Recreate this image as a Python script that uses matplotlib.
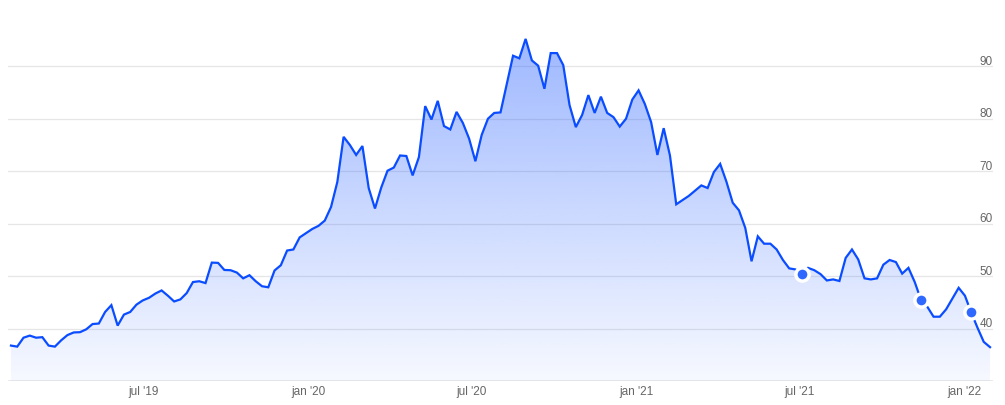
import numpy as np
import pandas as pd
import matplotlib
matplotlib.use("Agg")
import matplotlib.pyplot as plt
import matplotlib.dates as mdates
import matplotlib.transforms as mtrans

# weekly values
start_date = "2019-02-03"
values = [
    36.8, 36.6, 38.3, 38.7, 38.3, 38.4, 36.8, 36.6, 37.8, 38.8,
    39.3, 39.35, 39.9, 40.9, 41.0, 43.2, 44.5, 40.6, 42.7, 43.2,
    44.6, 45.4, 45.9, 46.7, 47.3, 46.3, 45.2, 45.6, 46.8, 48.9,
    49.05, 48.7,
    52.6, 52.55, 51.2, 51.15, 50.7, 49.6, 50.2, 49.05, 48.1, 47.9,
    51.1, 52.1, 54.9, 55.1, 57.4, 58.2, 59.0, 59.6, 60.6, 63.2,
    67.95, 76.55, 75.0, 73.1, 74.8, 66.8, 62.9, 66.9, 70.1, 70.7,
    73.0, 72.9, 69.2, 72.7, 82.4, 79.85, 83.4, 78.6, 77.95, 81.3,
    79.2, 76.2, 71.9, 76.9, 80.0, 81.1, 81.2, 86.6, 92.0, 91.5,
    95.2, 91.1, 90.1, 85.7, 92.5, 92.5, 90.2, 82.6, 78.4, 80.7,
    84.5, 81.1, 84.2, 81.1, 80.3, 78.5, 80.0, 83.65, 85.4, 82.8,
    79.35, 73.1, 78.2, 73.0, 63.7, 64.5, 65.3, 66.3, 67.3, 66.8,
    69.85, 71.4, 68.0, 64.0, 62.55, 59.2, 52.85, 57.6, 56.2, 56.2,
    55.1, 53.1, 51.5, 51.3, 50.5, 51.6, 51.15, 50.4, 49.2, 49.4,
    49.1, 53.5, 55.1, 53.2, 49.6, 49.4, 49.6, 52.2, 53.1, 52.7,
    50.5, 51.6, 48.9, 45.5, 44.2, 42.3, 42.3, 43.7, 45.75, 47.8,
    46.3, 43.1, 40.2, 37.5, 36.5,
]
marker_idx = [126, 145, 153]

y_ticks = [40, 50, 60, 70, 80, 90]
x_tick_dates = ["2019-07-01", "2020-01-01", "2020-07-01",
                "2021-01-01", "2021-07-01", "2022-01-01"]
x_tick_labels = ["jul '19", "jan '20", "jul '20", "jan '21", "jul '21", "jan '22"]

dates = pd.date_range(start_date, periods=len(values), freq="7D")
x = mdates.date2num(dates)
y = np.array(values)

line_col = "#0a4cff"
grid_col = "#e6e6e6"
text_col = "#666666"

plt.rcParams["font.family"] = ["Liberation Sans", "DejaVu Sans"]

fig = plt.figure(figsize=(10.05, 4.06), dpi=100)
ax = fig.add_axes([8 / 1005, 0.0584, 985 / 1005, 0.9054])

pad = 3.3
xmin, xmax = x[0] - pad, x[-1] + pad
ymin, ymax = 30, 100
ax.set_xlim(xmin, xmax)
ax.set_ylim(ymin, ymax)

# gradient fill under the line
poly = ax.fill_between(x, y, ymin, color="none", lw=0)
alpha = np.linspace(0.04, 0.48, 256)
img = np.zeros((256, 1, 4))
img[..., 0] = 0x29 / 255
img[..., 1] = 0x62 / 255
img[..., 2] = 1.0
img[..., 3] = alpha[:, None]
im = ax.imshow(img, origin="lower", aspect="auto",
               extent=[xmin, xmax, ymin, ymax], zorder=1)
path = poly.get_paths()[0]
im.set_clip_path(path, transform=ax.transData)

ax.plot(x, y, color=line_col, lw=1.6, zorder=3, solid_joinstyle="miter")
ax.plot(x[marker_idx], y[marker_idx], "o", ms=9.5, mfc="#2f68ff",
        mec="white", mew=2.5, zorder=4)

# grid and labels
for v in y_ticks:
    ax.axhline(v, color=grid_col, lw=0.9, zorder=0)
ax.axhline(ymin, color=grid_col, lw=1.2, zorder=0)
off = mtrans.offset_copy(ax.transData, fig=fig, x=0, y=5.5, units="dots")
blend = mtrans.blended_transform_factory(ax.transAxes, off)
for v in y_ticks:
    ax.text(1.0, v, str(v), transform=blend, ha="right", va="center",
            fontsize=8.5, color=text_col)

for s in ax.spines.values():
    s.set_visible(False)
ax.set_yticks([])
ax.set_xticks(mdates.date2num(pd.to_datetime(x_tick_dates)))
ax.set_xticklabels(x_tick_labels)
ax.tick_params(axis="x", length=0, pad=3, labelsize=8.5, labelcolor=text_col)

fig.savefig("out.png", dpi=100)
